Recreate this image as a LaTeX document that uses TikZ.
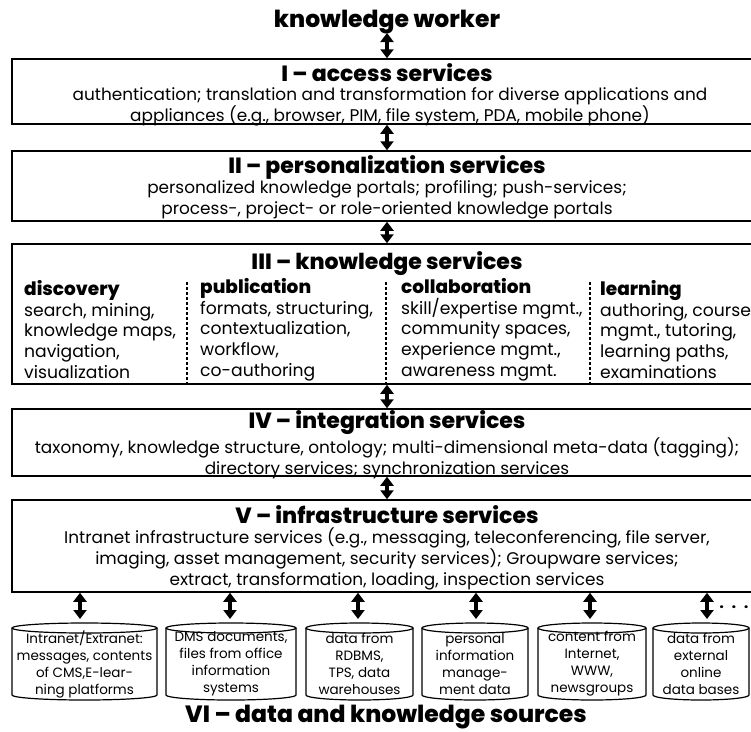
\documentclass[tikz,border=0pt]{standalone}
\usepackage{fontspec}
\setmainfont{Poppins}
\newfontfamily\heavy{Poppins ExtraBold}
\usetikzlibrary{arrows.meta}

% cylinder outline centred on a text node: #1 node name, #2 half width
\newcommand\drumshape[2]{%
  \draw[drumline] ([shift={(-#2,36)}]#1.center) -- ([shift={(-#2,-31)}]#1.center)
    arc[start angle=180,end angle=360,x radius=#2,y radius=5] -- ([shift={(#2,36)}]#1.center);
  \draw[drumline] ([yshift=36pt]#1.center) ellipse[x radius=#2,y radius=5];}

\begin{document}
\begin{tikzpicture}[x=1pt,y=1pt,
  layer/.style={draw, line width=1.5pt, inner sep=0pt, minimum width=750pt},
  ttl/.style={font=\heavy\fontsize{22}{25}\selectfont, inner sep=0pt},
  head/.style={font=\heavy\fontsize{23.5}{27}\selectfont, inner sep=0pt},
  body/.style={font=\fontsize{16.9}{21}\selectfont, align=center, inner sep=0pt},
  col/.style={font=\fontsize{17.2}{20.7}\selectfont, align=left, inner sep=0pt, anchor=west},
  colhead/.style={font=\heavy\fontsize{18.5}{20.7}\selectfont},
  drum/.style={font=\fontsize{13.5}{17}\selectfont, align=center, inner sep=0pt},
  drumline/.style={line width=1.2pt},
  dbl/.style={line width=3.5pt, {Triangle[width=13pt,length=9pt]}-{Triangle[width=13pt,length=9pt]}},
  divider/.style={line width=1.3pt, dash pattern=on 3pt off 2pt}
]
\useasboundingbox (0,0) rectangle (751,-731);
\clip (0,0) rectangle (751,-731);

% top label
\node[head] (kw) at (387,-22) {knowledge worker};

% I - access services
\node[layer, minimum height=65pt] (acc) at (387,-91.5) {};
\node[ttl] (accT) at (387,-73) {I – access services};
\node[body] (accB) at (390,-106.5) {authentication; translation and transformation for diverse applications and\\appliances (e.g., browser, PIM, file system, PDA, mobile phone)};

% II - personalization services
\node[layer, minimum height=70pt] (per) at (387,-186) {};
\node[ttl] (perT) at (387,-167) {II – personalization services};
\node[body] (perB) at (387,-199.5) {personalized knowledge portals; profiling; push-services;\\process-, project- or role-oriented knowledge portals};

% III - knowledge services
\node[layer, minimum height=140pt] (kno) at (387,-314) {};
\node[ttl] (knoT) at (387,-264) {III – knowledge services};
\node[col] (disc) at (24,-329.5) {{\heavy\fontsize{18.5}{20.7}\selectfont discovery}\\search, mining,\\knowledge maps,\\navigation,\\visualization};
\node[col] (publ) at (200,-329.5) {{\heavy\fontsize{18.5}{20.7}\selectfont publication}\\formats, structuring,\\contextualization,\\workflow,\\co-authoring};
\node[col] (coll) at (401,-329.5) {{\heavy\fontsize{18.5}{20.7}\selectfont collaboration}\\skill/expertise mgmt.,\\community spaces,\\experience mgmt.,\\awareness mgmt.};
\node[col] (lear) at (600,-329.5) {{\heavy\fontsize{18.5}{20.7}\selectfont learning}\\authoring, course\\mgmt., tutoring,\\learning paths,\\examinations};
\draw[divider] (187,-282) -- (187,0 |- kno.south);
\draw[divider] (386,-282) -- (386,0 |- kno.south);
\draw[divider] (590,-282) -- (590,0 |- kno.south);

% IV - integration services
\node[layer, minimum height=67pt] (int) at (387,-442.5) {};
\node[ttl] (intT) at (387,-423) {IV – integration services};
\node[body] (intB) at (387,-458) {taxonomy, knowledge structure, ontology; multi-dimensional meta-data (tagging);\\directory services; synchronization services};

% V - infrastructure services
\node[layer, minimum height=92pt] (inf) at (387,-546) {};
\node[ttl] (infT) at (387,-515) {V – infrastructure services};
\node[body] (infB) at (387,-559) {Intranet infrastructure services (e.g., messaging, teleconferencing, file server,\\imaging, asset management, security services); Groupware services;\\extract, transformation, loading, inspection services};

% VI - data and knowledge sources
\node[drum] (d1) at (84.5,-664) {Intranet/Extranet:\\messages, contents\\of CMS,E-lear-\\ning platforms};
\node[drum] (d2) at (231,-664) {DMS documents,\\files from office\\information\\systems};
\node[drum] (d3) at (359.5,-664) {data from\\RDBMS,\\TPS, data\\warehouses};
\node[drum] (d4) at (475,-664) {personal\\information\\manage-\\ment data};
\node[drum] (d5) at (592,-664) {content from\\Internet,\\WWW,\\newsgroups};
\node[drum] (d6) at (701,-664) {data from\\external\\online\\data bases};
\drumshape{d1}{72.5}
\drumshape{d2}{65}
\drumshape{d3}{53.5}
\drumshape{d4}{53}
\drumshape{d5}{54}
\drumshape{d6}{48}
\node[head] (src) at (386,-717) {VI – data and knowledge sources};
\node[font=\heavy\fontsize{14}{14}\selectfont, inner sep=0pt] (more) at (734,-607) {.\hspace{8pt}.\hspace{8pt}.};

% connectors between the layers
\coordinate (kwfoot) at (387,-33);
\draw[dbl] (kwfoot) -- (acc.north);
\draw[dbl] (acc.south) -- (per.north);
\draw[dbl] (per.south) -- (kno.north);
\draw[dbl] (kno.south) -- (int.north);
\draw[dbl] (int.south) -- (inf.north);
\draw[dbl] (inf.south -| 80,0) -- ([yshift=45pt]d1.center -| 80,0);
\draw[dbl] (inf.south -| 230,0) -- ([yshift=45pt]d2.center -| 230,0);
\draw[dbl] (inf.south -| 358,0) -- ([yshift=45pt]d3.center -| 358,0);
\draw[dbl] (inf.south -| 476,0) -- ([yshift=45pt]d4.center -| 476,0);
\draw[dbl] (inf.south -| 590,0) -- ([yshift=45pt]d5.center -| 590,0);
\draw[dbl] (inf.south -| 707,0) -- ([yshift=45pt]d6.center -| 707,0);
\end{tikzpicture}
\end{document}
